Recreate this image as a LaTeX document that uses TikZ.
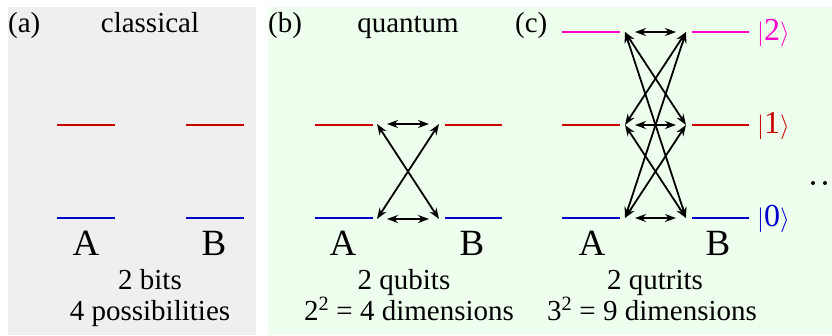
\documentclass[tikz,border=0pt]{standalone}
\usepackage{fontspec}
\setmainfont{Liberation Serif}
\usetikzlibrary{arrows.meta}
\definecolor{lvlred}{RGB}{200,0,0}
\definecolor{lvlblue}{RGB}{0,0,204}
\definecolor{lvlmag}{RGB}{255,0,204}
\definecolor{panelgray}{RGB}{239,239,239}
\definecolor{panelgreen}{RGB}{238,255,238}

\begin{document}
\begin{tikzpicture}[x=1pt,y=-1pt,
  font=\fontsize{29}{34}\selectfont,
  lbl/.style={inner sep=0pt,anchor=base},
  big/.style={lbl,font=\fontsize{37}{40}\selectfont},
  ket/.style={inner sep=0pt,anchor=west,font=\fontsize{32}{36}\selectfont},
  lvl/.style={line width=2.8pt},
  a/.style={{Stealth[length=11pt,width=8pt]}-{Stealth[length=11pt,width=8pt]},line width=1.8pt},
  flat/.style={a,shorten <=10pt,shorten >=10pt}]
\useasboundingbox (0,0) rectangle (832,335);
\fill[panelgray] (8,7) rectangle (256,335);
\fill[panelgreen] (268,7) rectangle (832,335);
% (a) classical
\node[lbl,anchor=base west] (tagA) at (8,32) {(a)};
\node[lbl] (titA) at (150,32) {classical};
\draw[lvl,lvlred] (57,125) -- (115,125); \draw[lvl,lvlred] (186,125) -- (244,125);
\draw[lvl,lvlblue] (57,218) -- (115,218); \draw[lvl,lvlblue] (186,218) -- (244,218);
\node[big] (sysA) at (86,255) {A};
\node[big] (sysB) at (214,255) {B};
\node[lbl] (infA) at (150,289) {2 bits};
\node[lbl] (dimA) at (150,320) {4 possibilities};
% (b) qubits
\node[lbl,anchor=base west] (tagB) at (268,32) {(b)};
\node[lbl] (titB) at (408,32) {quantum};
\draw[lvl,lvlred] (315,125) -- (373,125); \draw[lvl,lvlred] (445,125) -- (502,125);
\draw[lvl,lvlblue] (315,218) -- (373,218); \draw[lvl,lvlblue] (445,218) -- (502,218);
\coordinate (bL1) at (377,124); \coordinate (bR1) at (439,124);
\coordinate (bL0) at (377,219); \coordinate (bR0) at (439,219);
\draw[flat] (bL1) -- (bR1); \draw[flat] (bL0) -- (bR0);
\draw[a] (bL1) -- (bR0); \draw[a] (bL0) -- (bR1);
\node[big] (qbA) at (343,255) {A};
\node[big] (qbB) at (472,255) {B};
\node[lbl] (infB) at (404,289) {2 qubits};
\node[lbl] (dimB) at (409,320) {2\textsuperscript{2} = 4 dimensions};
% (c) qutrits
\node[lbl,anchor=base west] (tagC) at (515,32) {(c)};
\draw[lvl,lvlmag] (562,32) -- (620,32); \draw[lvl,lvlmag] (692,32) -- (749,32);
\draw[lvl,lvlred] (562,125) -- (620,125); \draw[lvl,lvlred] (692,125) -- (749,125);
\draw[lvl,lvlblue] (562,218) -- (620,218); \draw[lvl,lvlblue] (692,218) -- (749,218);
\coordinate (cL2) at (625,32); \coordinate (cR2) at (686,32);
\coordinate (cL1) at (625,125); \coordinate (cR1) at (686,125);
\coordinate (cL0) at (625,218); \coordinate (cR0) at (686,218);
\draw[flat] (cL2) -- (cR2); \draw[flat] (cL1) -- (cR1); \draw[flat] (cL0) -- (cR0);
\draw[a] (cL2) -- (cR1); \draw[a] (cL2) -- (cR0);
\draw[a] (cL1) -- (cR2); \draw[a] (cL1) -- (cR0);
\draw[a] (cL0) -- (cR2); \draw[a] (cL0) -- (cR1);
\node[ket,lvlmag] (ket2) at (757,33) {$|$2$\rangle$};
\node[ket,lvlred] (ket1) at (757,126) {$|$1$\rangle$};
\node[ket,lvlblue] (ket0) at (757,219) {$|$0$\rangle$};
\fill (813,183) circle (2pt); \fill (825,183) circle (2pt);
\node[big] (qtA) at (592,255) {A};
\node[big] (qtB) at (718,255) {B};
\node[lbl] (infC) at (655,289) {2 qutrits};
\node[lbl] (dimC) at (652,320) {3\textsuperscript{2} = 9 dimensions};
\end{tikzpicture}
\end{document}
